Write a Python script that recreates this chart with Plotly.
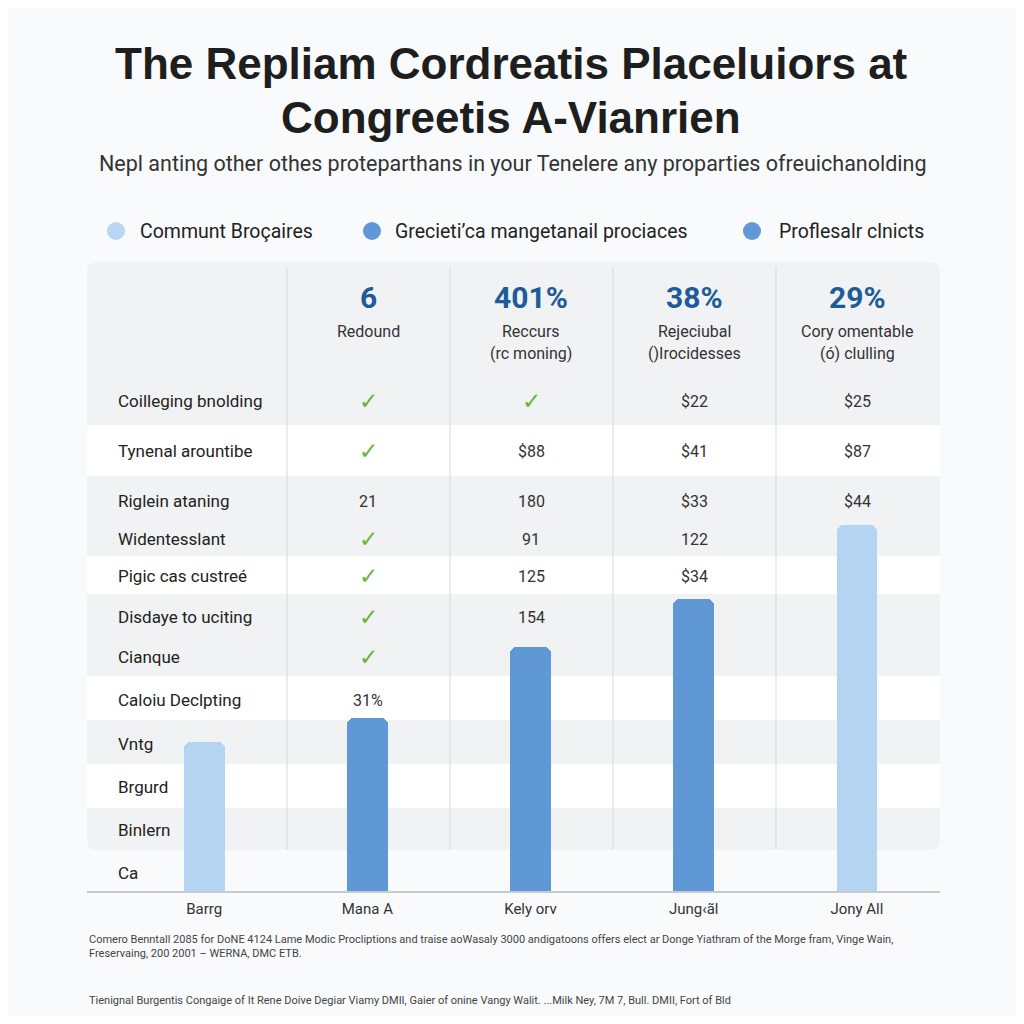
import plotly.graph_objects as go

# ---------------- data ----------------
categories = ["Barrg", "Mana A", "Kely orv", "Jung\u2039\u00e3l", "Jony All"]
values = [23.7, 27.5, 38.8, 46.4, 58.2]
bar_colors = ["#b5d4f1", "#5f98d5", "#5f98d5", "#5f98d5", "#b5d4f1"]

legend_labels = ["Communt Bro\u00e7aires", "Grecieti\u2019ca mangetanail prociaces", "Proflesalr clnicts"]
legend_colors = ["#b9d6f2", "#5f98d5", "#5f98d5"]

header_values = ["6", "401%", "38%", "29%"]
header_line1 = ["Redound", "Reccurs", "Rejeciubal", "Cory omentable"]
header_line2 = ["", "(rc moning)", "()Irocidesses", "(\u00f3) clulling"]

row_labels = ["Coilleging bnolding", "Tynenal arountibe", "Riglein ataning", "Widentesslant",
              "Pigic cas custre\u00e9", "Disdaye to uciting", "Cianque", "Caloiu Declpting",
              "Vntg", "Brgurd", "Binlern", "Ca"]
CHECK = "\u2713"
col1 = [CHECK, CHECK, "21", CHECK, CHECK, CHECK, CHECK, "31%", "", "", "", ""]
col2 = [CHECK, "$88", "180", "91", "125", "154", "", "", "", "", "", ""]
col3 = ["$22", "$41", "$33", "122", "$34", "", "", "", "", "", "", ""]
col4 = ["$25", "$87", "$44", "", "", "", "", "", "", "", "", ""]

title_lines = ["The Repliam Cordreatis Placeluiors at", "Congreetis A-Vianrien"]
subtitle = "Nepl anting other othes proteparthans in your Tenelere any proparties ofreuichanolding"
footnotes = [
    "Comero Benntall 2085 for DoNE 4124 Lame Modic Procliptions and traise aoWasaly 3000 andigatoons offers elect ar Donge Yiathram of the Morge fram, Vinge Wain,",
    "Freservaing, 200 2001 \u2013 WERNA, DMC ETB.",
    "Tienignal Burgentis Congaige of It Rene Doive Degiar Viamy DMII, Gaier of onine Vangy Walit. ...Milk Ney, 7M 7, Bull. DMII, Fort of Bld",
]

# ---------------- layout geometry (page pixels) ----------------
OFF = 8              # browser body margin
W = H = 1008
PL, PR, PT, PB = 87, 940, 262, 891  # plot area in page pixels


def px(x):
    return (x - PL) / (PR - PL)


def py(y):
    return (PB - y) / (PB - PT)


col_centers = [368, 531, 694, 857]
col_lines = [287, 450, 613, 776]
row_y = [401, 451, 501, 539, 576, 617, 657, 700, 744, 787, 830, 873]
white_bands = [(425, 476), (556, 594), (676, 720), (764, 808)]

fig = go.Figure()
fig.add_trace(go.Bar(
    x=list(range(len(categories))), y=values,
    marker=dict(color=bar_colors, cornerradius=7, line=dict(width=0)),
    width=0.25, showlegend=False, hoverinfo="skip",
))

shapes = []
# table panel with rounded corners
r = 10
x0, x1, y0, y1 = 87, 940, 262, 850
path = (f"M {px(x0+r)},{py(y0)} L {px(x1-r)},{py(y0)} Q {px(x1)},{py(y0)} {px(x1)},{py(y0+r)} "
        f"L {px(x1)},{py(y1-r)} Q {px(x1)},{py(y1)} {px(x1-r)},{py(y1)} "
        f"L {px(x0+r)},{py(y1)} Q {px(x0)},{py(y1)} {px(x0)},{py(y1-r)} "
        f"L {px(x0)},{py(y0+r)} Q {px(x0)},{py(y0)} {px(x0+r)},{py(y0)} Z")
shapes.append(dict(type="path", path=path, xref="paper", yref="paper",
                   fillcolor="#f1f2f3", line=dict(width=0), layer="below"))
for (a, b) in white_bands:
    shapes.append(dict(type="rect", xref="paper", yref="paper", x0=px(87), x1=px(940),
                       y0=py(b), y1=py(a), fillcolor="#ffffff", line=dict(width=0), layer="below"))
for cx in col_lines:
    shapes.append(dict(type="line", xref="paper", yref="paper", x0=px(cx), x1=px(cx),
                       y0=py(850), y1=py(267), line=dict(color="#d8d9db", width=1), layer="below"))
# legend markers
legend_x = [116, 372, 752]
legend_text_x = [138, 393, 777]
for lx, c in zip(legend_x, legend_colors):
    shapes.append(dict(type="circle", xref="paper", yref="paper",
                       x0=px(lx - 9), x1=px(lx + 9), y0=py(240), y1=py(222),
                       fillcolor=c, line=dict(width=0)))

ann = []


def add_text(x, y, text, size, color="#222", family="Roboto", anchor="center", bold=False):
    ann.append(dict(x=px(x), y=py(y), xref="paper", yref="paper", text=f"<b>{text}</b>" if bold else text,
                    showarrow=False, xanchor=anchor, yanchor="middle",
                    font=dict(size=size, color=color, family=family)))


# title / subtitle
add_text(511, 63, title_lines[0], 44, "#1e1e1e", "Liberation Sans", bold=True)
add_text(511, 117, title_lines[1], 44, "#1e1e1e", "Liberation Sans", bold=True)
add_text(513, 163, subtitle, 21.5, "#333333", "Roboto")
# legend text
for tx, lab in zip(legend_text_x, legend_labels):
    add_text(tx, 231, lab, 19.5, "#222222", "Roboto", anchor="left")
# header
for cx, v, l1, l2 in zip(col_centers, header_values, header_line1, header_line2):
    add_text(cx, 297, v, 30, "#1d5c99", "Roboto", bold=True)
    add_text(cx, 331, l1, 16, "#333333", "Roboto")
    if l2:
        add_text(cx, 353, l2, 16, "#333333", "Roboto")
# rows
for i, lab in enumerate(row_labels):
    add_text(116, row_y[i], lab, 17, "#222222", "Roboto", anchor="left")
    for cx, col in zip(col_centers, [col1, col2, col3, col4]):
        v = col[i]
        if not v:
            continue
        if v == CHECK:
            add_text(cx, row_y[i], v, 23, "#6cb13a", "DejaVu Sans", bold=True)
        else:
            add_text(cx, row_y[i], v, 16, "#333333", "Roboto")
# footnotes
add_text(87, 939, footnotes[0], 11, "#444444", "Roboto", anchor="left")
add_text(87, 953, footnotes[1], 11, "#444444", "Roboto", anchor="left")
add_text(87, 1000, footnotes[2], 11, "#444444", "Roboto", anchor="left")

fig.update_layout(
    width=W, height=H,
    margin=dict(l=PL - OFF, r=OFF + W - PR, t=PT - OFF, b=OFF + H - PB, pad=0),
    paper_bgcolor="#f9fafb", plot_bgcolor="rgba(0,0,0,0)",
    shapes=shapes, annotations=ann, showlegend=False,
    bargap=0,
    xaxis=dict(range=[-(204 - 87) / 163, 4 + (940 - 857) / 163], tickvals=list(range(len(categories))),
               ticktext=categories, showgrid=False, zeroline=False, showline=True,
               linecolor="#c9cacc", linewidth=1.5, ticks="", ticklabelstandoff=3,
               tickfont=dict(family="Roboto", size=15, color="#333333"), fixedrange=True),
    yaxis=dict(range=[0, 100], visible=False, showgrid=False, zeroline=False, fixedrange=True),
)

fig.write_html("out.html")
